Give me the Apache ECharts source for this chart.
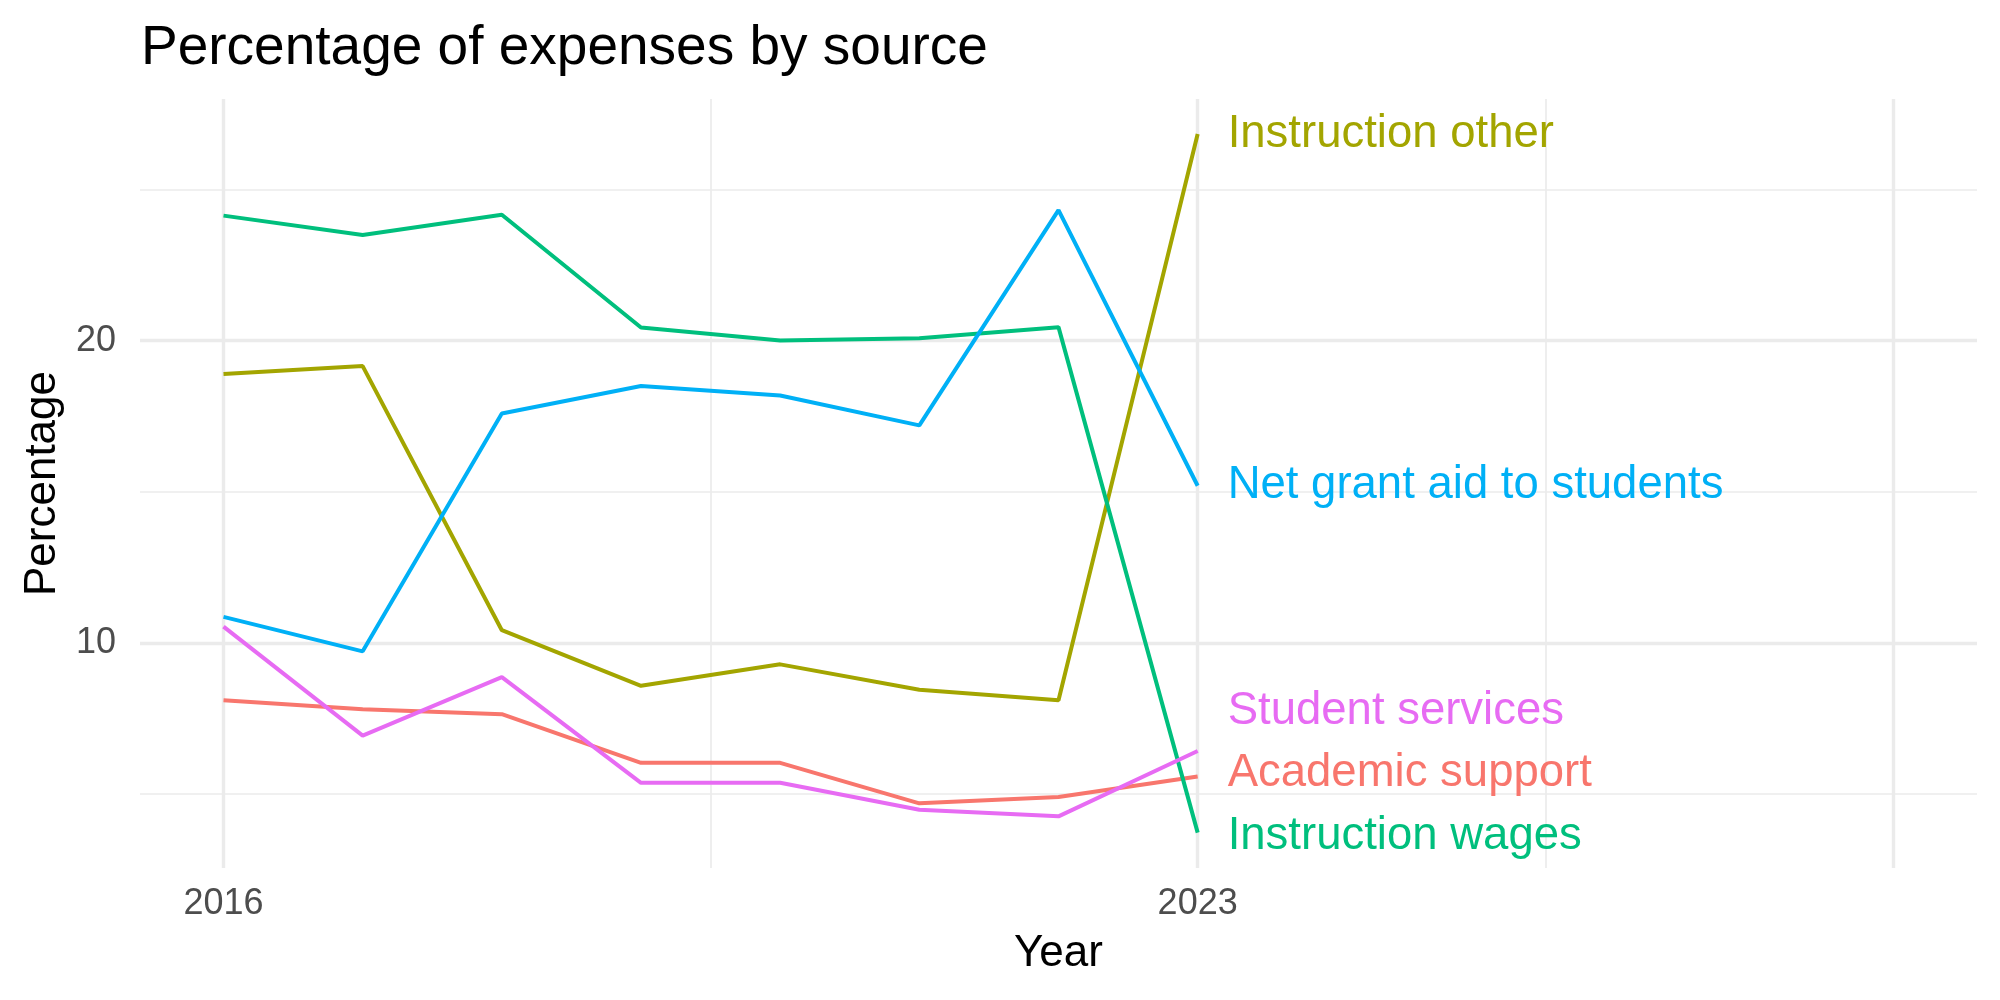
<!DOCTYPE html>
<html>
<head>
<meta charset="utf-8">
<script src="https://cdn.jsdelivr.net/npm/echarts@6/dist/echarts.min.js"></script>
<style>
  html, body { margin: 0; padding: 0; background: #fff; }
  #chart { width: 2000px; height: 1000px; }
</style>
</head>
<body>
<div id="chart"></div>
<script>
var years = [2016, 2017, 2018, 2019, 2020, 2021, 2022, 2023];
var academicSupport = [8.10, 7.80, 7.64, 6.03, 6.03, 4.69, 4.90, 5.58];
var instructionOther = [18.90, 19.16, 10.42, 8.58, 9.29, 8.45, 8.10, 26.84];
var instructionWages = [24.14, 23.50, 24.17, 20.44, 20.01, 20.08, 20.45, 3.72];
var netGrantAid = [10.86, 9.72, 17.59, 18.50, 18.19, 17.20, 24.32, 15.20];
var studentServices = [10.54, 6.93, 8.87, 5.37, 5.37, 4.48, 4.26, 6.42];

var xTicks = [2016, 2023];
var yTicks = [10, 20];
var xMajorGrid = [2016, 2023, 2028];
var xMinorGrid = [2019.5, 2025.5];
var yMajorGrid = [10, 20];
var yMinorGrid = [5, 15, 25];

var font = 'Liberation Sans';

function pairs(vals) {
	return years.map(function(y, i) { return [y, vals[i]]; });
}

function makeSeries(name, vals, color, dy) {
	return {
		name: name,
		type: 'line',
		data: pairs(vals),
		symbol: 'none',
		z: 3,
		lineStyle: { color: color, width: 4 },
		itemStyle: { color: color },
		endLabel: {
			show: true,
			formatter: name,
			color: color,
			fontFamily: font,
			fontSize: 45.5,
			distance: 30,
			offset: [0, dy]
		}
	};
}

var gridLines = [];
xMajorGrid.forEach(function(v) { gridLines.push({ xAxis: v, lineStyle: { width: 3.4 } }); });
xMinorGrid.forEach(function(v) { gridLines.push({ xAxis: v, lineStyle: { width: 1.7 } }); });
yMajorGrid.forEach(function(v) { gridLines.push({ yAxis: v, lineStyle: { width: 3.4 } }); });
yMinorGrid.forEach(function(v) { gridLines.push({ yAxis: v, lineStyle: { width: 1.7 } }); });

var myChart = echarts.init(document.getElementById('chart'));
var option = {
	animation: false,
	backgroundColor: '#ffffff',
	title: {
		text: 'Percentage of expenses by source',
		left: 136,
		top: 16,
		textStyle: { fontFamily: font, fontSize: 55, fontWeight: 'normal', color: '#000' }
	},
	grid: { left: 140, right: 23, top: 99, bottom: 132, outerBoundsMode: 'none' },
	xAxis: {
		type: 'value',
		min: 2015.4,
		max: 2028.6,
		name: 'Year',
		nameLocation: 'middle',
		nameGap: 64,
		nameTextStyle: { fontFamily: font, fontSize: 44, color: '#000' },
		axisLine: { show: false },
		axisTick: { show: false },
		splitLine: { show: false },
		axisLabel: {
			customValues: xTicks,
			formatter: function(v) { return String(v); },
			margin: 18,
			fontFamily: font,
			fontSize: 36,
			color: '#4d4d4d'
		}
	},
	yAxis: {
		type: 'value',
		min: 2.55,
		max: 28.0,
		name: 'Percentage',
		nameLocation: 'middle',
		nameRotate: 90,
		nameGap: 72,
		nameTextStyle: { fontFamily: font, fontSize: 44, color: '#000' },
		axisLine: { show: false },
		axisTick: { show: false },
		splitLine: { show: false },
		axisLabel: {
			customValues: yTicks,
			margin: 24,
			fontFamily: font,
			fontSize: 36,
			color: '#4d4d4d'
		}
	},
	series: [
		{
			name: 'grid',
			type: 'line',
			data: [],
			z: 0,
			silent: true,
			markLine: {
				silent: true,
				symbol: 'none',
				z: 0,
				label: { show: false },
				lineStyle: { color: '#ebebeb', type: 'solid' },
				data: gridLines
			}
		},
		makeSeries('Academic support', academicSupport, '#F8766D', -3),
		makeSeries('Instruction other', instructionOther, '#A3A500', 0),
		makeSeries('Instruction wages', instructionWages, '#00BF7D', 4),
		makeSeries('Net grant aid to students', netGrantAid, '#00B0F6', 0),
		makeSeries('Student services', studentServices, '#E76BF3', -40)
	]
};
myChart.setOption(option);
</script>
</body>
</html>
